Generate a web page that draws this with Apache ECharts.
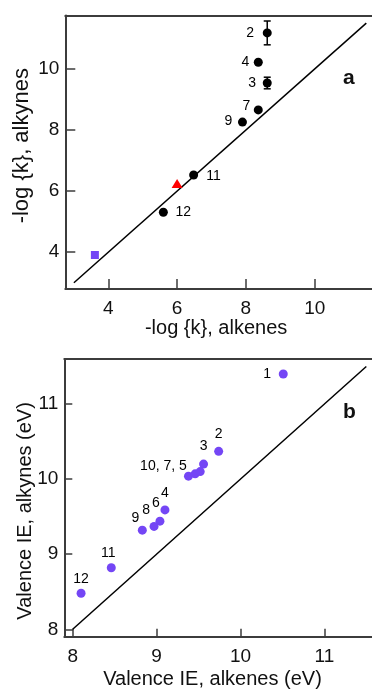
<!DOCTYPE html>
<html>
<head>
<meta charset="utf-8">
<script src="https://cdn.jsdelivr.net/npm/echarts@6/dist/echarts.min.js"></script>
<style>
html,body{margin:0;padding:0;background:#fff;}
#chart{width:372px;height:691px;}
</style>
</head>
<body>
<div id="chart"></div>
<script>
// ---------- Data ----------
// Panel a: -log{k}
const xTicksA = [4, 6, 8, 10];
const yTicksA = [4, 6, 8, 10];
const namesA = ['2', '4', '3', '7', '9', '11', '12'];
const xA = [8.62, 8.36, 8.62, 8.36, 7.90, 6.48, 5.60];
const yA = [11.18, 10.22, 9.54, 8.66, 8.26, 6.53, 5.31];
const errNamesA = ['2', '3'];
const errXA = [8.62, 8.62];
const errYA = [11.18, 9.54];
const errA = [0.39, 0.19];
const triangleA = [6.00, 6.25];
const squareA = [3.61, 3.91];
const diagA = [3, 11.5];

// Panel b: valence IE (eV)
const xTicksB = [8, 9, 10, 11];
const yTicksB = [8, 9, 10, 11];
const namesB = ['1', '2', '3', '10', '7', '5', '4', '6', '8', '9', '11', '12'];
const labelsB = ['1', '2', '3', '10, 7, 5', '', '', '4', '6', '8', '9', '11', '12'];
const xB = [10.51, 9.74, 9.56, 9.38, 9.46, 9.52, 9.10, 9.04, 8.97, 8.83, 8.46, 8.10];
const yB = [11.40, 10.37, 10.20, 10.04, 10.07, 10.10, 9.59, 9.44, 9.37, 9.32, 8.82, 8.48];
const diagB = [8, 11.5];

// ---------- Layout / style ----------
const FONT = '"Liberation Sans", Arial, sans-serif';
const PURPLE = '#7446F5';
const AXIS_COLOR = '#3c3c3c';
// label offsets (pixels, relative to marker centre)
const labelOffA = [[-17, 0], [-13, 0], [-15, 0], [-12, -4], [-14, -1], [20, 1], [20, 0]];
const labelOffB = [[-16, 0], [0, -17], [0, -18], [-25, -10], [0, 0], [0, 0], [0, -17], [-4, -18], [-8, -16], [-7, -12], [-3, -15], [0, -14]];

function valueAxis(gridIndex, min, max, ticks, tickLen, name, nameGap, namePadding, nameSize) {
  return {
    type: 'value', gridIndex, min, max,
    name, nameLocation: 'middle', nameGap,
    nameTextStyle: { fontFamily: FONT, fontSize: nameSize, color: '#111', padding: namePadding },
    axisLine: { show: true, onZero: false, lineStyle: { color: AXIS_COLOR, width: 2 } },
    axisTick: { show: true, inside: true, length: tickLen, customValues: ticks, lineStyle: { color: AXIS_COLOR, width: 1.5 } },
    axisLabel: { show: true, customValues: ticks, fontFamily: FONT, fontSize: 19, color: '#111', margin: 6 },
    splitLine: { show: false },
    minorTick: { show: false }
  };
}
function topAxis(gridIndex, min, max) {
  return {
    type: 'value', gridIndex, min, max, position: 'top',
    axisLine: { show: true, onZero: false, lineStyle: { color: AXIS_COLOR, width: 2 } },
    axisTick: { show: false }, axisLabel: { show: false }, splitLine: { show: false }
  };
}

const gridA = { left: 65.3, top: 15.5, width: 309.6, height: 273.4 };
const gridB = { left: 64.3, top: 359, width: 310.4, height: 277.8 };

const xAxisA = valueAxis(0, 2.75, 11.75, xTicksA, 10, '-log {k}, alkenes', 28, [0, 8, 0, 0], 20);
xAxisA.axisLabel.margin = 10;
const yAxisA = valueAxis(0, 2.8, 11.75, yTicksA, 10, '-log {k}, alkynes', 32, [0, 0, 0, 13], 22);
yAxisA.nameMoveOverlap = false;
const xAxisB = valueAxis(1, 7.9, 11.6, xTicksB, 8, 'Valence IE, alkenes (eV)', 33, [0, 14, 0, 0], 20);
xAxisB.axisLabel.margin = 10;
const yAxisB = valueAxis(1, 7.9, 11.6, yTicksB, 8, 'Valence IE, alkynes (eV)', 29, [0, 26, 0, 0], 20);
yAxisB.nameMoveOverlap = false;

const ptsA = namesA.map((n, i) => ({
  name: n, value: [xA[i], yA[i]],
  label: { show: true, formatter: n, position: 'inside', offset: labelOffA[i] }
}));
const ptsB = namesB.map((n, i) => ({
  name: n, value: [xB[i], yB[i]],
  label: { show: labelsB[i] !== '', formatter: labelsB[i], position: 'inside', offset: labelOffB[i] }
}));
const errData = errNamesA.map((n, i) => [errXA[i], errYA[i], errA[i]]);

const labelStyle = { fontFamily: FONT, fontSize: 14, color: '#000', opacity: 1, textBorderWidth: 0 };

const option = {
  backgroundColor: '#fff',
  animation: false,
  grid: [Object.assign({ outerBoundsMode: 'none' }, gridA), Object.assign({ outerBoundsMode: 'none' }, gridB)],
  xAxis: [xAxisA, xAxisB, topAxis(0, 2.75, 11.75), topAxis(1, 7.9, 11.6)],
  yAxis: [yAxisA, yAxisB],
  graphic: [
    { type: 'text', left: 343, top: 68, style: { text: 'a', font: 'bold 21px ' + FONT, fill: '#111' } },
    { type: 'text', left: 343, top: 402, style: { text: 'b', font: 'bold 21px ' + FONT, fill: '#111' } }
  ],
  series: [
    { type: 'line', xAxisIndex: 0, yAxisIndex: 0, data: [[diagA[0], diagA[0]], [diagA[1], diagA[1]]],
      symbol: 'none', lineStyle: { color: '#000', width: 1.5 }, silent: true },
    { type: 'line', xAxisIndex: 1, yAxisIndex: 1, data: [[diagB[0], diagB[0]], [diagB[1], diagB[1]]],
      symbol: 'none', lineStyle: { color: '#000', width: 1.5 }, silent: true },
    { type: 'custom', xAxisIndex: 0, yAxisIndex: 0, data: errData,
      renderItem: function (params, api) {
        const x = api.value(0), y = api.value(1), e = api.value(2);
        const hi = api.coord([x, y + e]), lo = api.coord([x, y - e]);
        const cap = 3.5;
        const st = { stroke: '#000', lineWidth: 1.5 };
        return { type: 'group', children: [
          { type: 'line', shape: { x1: hi[0], y1: hi[1], x2: lo[0], y2: lo[1] }, style: st },
          { type: 'line', shape: { x1: hi[0] - cap, y1: hi[1], x2: hi[0] + cap, y2: hi[1] }, style: st },
          { type: 'line', shape: { x1: lo[0] - cap, y1: lo[1], x2: lo[0] + cap, y2: lo[1] }, style: st }
        ] };
      }, z: 3 },
    { type: 'scatter', xAxisIndex: 0, yAxisIndex: 0, data: ptsA, symbol: 'circle', symbolSize: 9,
      itemStyle: { color: '#000', opacity: 1 }, label: labelStyle, z: 4 },
    { type: 'scatter', xAxisIndex: 0, yAxisIndex: 0, data: [triangleA], symbol: 'triangle', symbolSize: [11, 9],
      itemStyle: { color: '#ff0000', opacity: 1 }, z: 4 },
    { type: 'scatter', xAxisIndex: 0, yAxisIndex: 0, data: [squareA], symbol: 'rect', symbolSize: 8,
      itemStyle: { color: PURPLE, opacity: 1 }, z: 4 },
    { type: 'scatter', xAxisIndex: 1, yAxisIndex: 1, data: ptsB, symbol: 'circle', symbolSize: 9,
      itemStyle: { color: PURPLE, opacity: 1 }, label: labelStyle, z: 4 }
  ]
};

const chart = echarts.init(document.getElementById('chart'), null, { renderer: 'canvas' });
chart.setOption(option);
</script>
</body>
</html>
